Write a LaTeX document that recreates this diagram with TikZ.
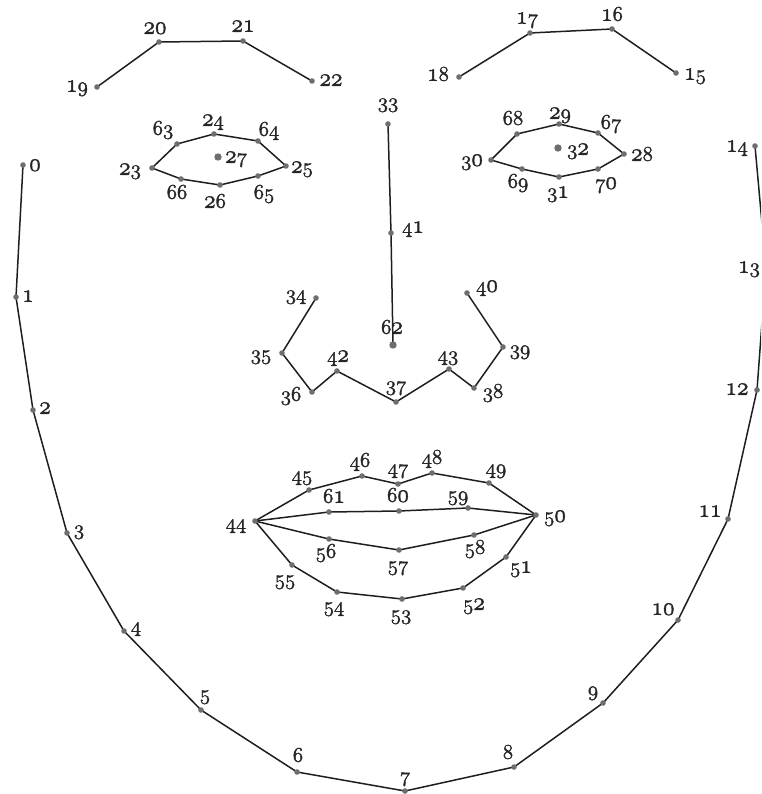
\RequirePackage{fix-cm}
\documentclass[tikz,border=0pt]{standalone}
\usepackage{graphicx}
\definecolor{linec}{HTML}{1E1E1E}
\definecolor{dotc}{HTML}{6E6E6E}
\definecolor{labc}{HTML}{262626}
\tikzset{
  edge/.style={draw=linec, line width=1.5pt, line join=round},
  lbl/.style={font=\fontsize{21}{24}\selectfont, text=labc, inner sep=0pt, anchor=base},
}
\makeatletter
\def\osn#1{\special{pdf:literal direct 2 Tr 0.35 w}\osn@#1\relax\special{pdf:literal direct 0 Tr}}
\def\osn@#1{\ifx#1\relax\else\osdig{#1}\expandafter\osn@\fi}
\def\osdig#1{\ifnum#1<3 \scalebox{1.12}[1.22]{\usefont{OML}{cmm}{m}{it}#1}\else{\usefont{OML}{cmm}{m}{it}#1}\fi}
\makeatother
\newcommand\fp[6]{\coordinate (p#1) at (#2,#3); \node[lbl] (l#1) at (#4,#5+4.8) {\osn{#6}};}
\begin{document}
\begin{tikzpicture}[x=1pt,y=-1pt]
\path[use as bounding box] (0,0) rectangle (761,794);
\begin{scope}
\clip (0,0) rectangle (761,794);
% jaw
\fp{0}{23}{165}{35}{166}{0}
\fp{1}{16}{297}{28}{297}{1}
\fp{2}{33}{410}{45}{409}{2}
\fp{3}{67}{533}{79}{530}{3}
\fp{4}{124}{631}{136}{627}{4}
\fp{5}{201}{710}{205}{695}{5}
\fp{6}{297}{772}{298}{757}{6}
\fp{7}{405}{791}{405}{777}{7}
\fp{8}{514}{767}{508}{754}{8}
\fp{9}{603}{703}{593}{691}{9}
\fp{10}{678}{620}{663}{610}{10}
\fp{11}{728}{519}{710}{512}{11}
\fp{12}{757}{390}{737}{390}{12}
\fp{13}{766}{268}{749}{268}{13}
\fp{14}{755}{146}{737}{147}{14}
% brows
\fp{15}{676}{73}{695}{75}{15}
\fp{16}{612}{29}{612}{16}{16}
\fp{17}{530}{33}{527}{19}{17}
\fp{18}{459}{77}{438}{76}{18}
\fp{19}{97}{87}{77}{87}{19}
\fp{20}{159}{42}{155}{29}{20}
\fp{21}{243}{41}{243}{27}{21}
\fp{22}{312}{81}{331}{81}{22}
% left eye
\fp{23}{152}{168}{130}{170}{23}
\fp{24}{214}{134}{213}{121}{24}
\fp{25}{286}{166}{302}{168}{25}
\fp{26}{220}{185}{215}{203}{26}
\fp{27}{218}{157}{236}{158}{27}
\fp{63}{177}{144}{163}{130}{63}
\fp{64}{258}{141}{269}{131}{64}
\fp{65}{258}{176}{264}{194}{65}
\fp{66}{181}{179}{177}{194}{66}
% right eye
\fp{28}{624}{154}{642}{156}{28}
\fp{29}{559}{124}{560}{114}{29}
\fp{30}{491}{160}{472}{161}{30}
\fp{31}{559}{177}{558}{193}{31}
\fp{32}{558}{148}{578}{150}{32}
\fp{67}{598}{133}{611}{124}{67}
\fp{68}{517}{134}{513}{120}{68}
\fp{69}{522}{169}{518}{183}{69}
\fp{70}{598}{169}{606}{184}{70}
% nose
\fp{33}{388}{124}{388}{103}{33}
\fp{41}{391}{233}{413}{228}{41}
\fp{62}{393}{345}{392}{329}{62}
\fp{34}{316}{298}{296}{295}{34}
\fp{35}{282}{353}{261}{355}{35}
\fp{36}{312}{392}{291}{396}{36}
\fp{42}{337}{371}{338}{357}{42}
\fp{37}{396}{402}{396}{386}{37}
\fp{43}{449}{369}{448}{356}{43}
\fp{38}{474}{388}{493}{393}{38}
\fp{39}{503}{347}{520}{350}{39}
\fp{40}{467}{293}{487}{287}{40}
% mouth
\fp{44}{255}{521}{236}{524}{44}
\fp{45}{309}{490}{302}{476}{45}
\fp{46}{362}{476}{360}{462}{46}
\fp{47}{398}{484}{398}{469}{47}
\fp{48}{432}{473}{432}{459}{48}
\fp{49}{489}{483}{496}{469}{49}
\fp{50}{536}{515}{555}{517}{50}
\fp{51}{506}{557}{521}{568}{51}
\fp{52}{463}{588}{474}{605}{52}
\fp{53}{402}{599}{401}{615}{53}
\fp{54}{337}{592}{334}{607}{54}
\fp{55}{292}{565}{285}{580}{55}
\fp{56}{329}{539}{326}{553}{56}
\fp{57}{399}{550}{398}{566}{57}
\fp{58}{474}{535}{475}{549}{58}
\fp{59}{468}{508}{458}{496}{59}
\fp{60}{399}{511}{398}{497}{60}
\fp{61}{329}{512}{334}{498}{61}
% connectors
\draw[edge] (p0)--(p1)--(p2)--(p3)--(p4)--(p5)--(p6)--(p7)--(p8)--(p9)--(p10)--(p11)--(p12)--(p13)--(p14);
\draw[edge] (p19)--(p20)--(p21)--(p22);
\draw[edge] (p18)--(p17)--(p16)--(p15);
\draw[edge] (p23)--(p63)--(p24)--(p64)--(p25)--(p65)--(p26)--(p66)--cycle;
\draw[edge] (p30)--(p68)--(p29)--(p67)--(p28)--(p70)--(p31)--(p69)--cycle;
\draw[edge] (p33)--(p41)--(p62);
\draw[edge] (p34)--(p35)--(p36)--(p42)--(p37)--(p43)--(p38)--(p39)--(p40);
\draw[edge] (p44)--(p45)--(p46)--(p47)--(p48)--(p49)--(p50)--(p51)--(p52)--(p53)--(p54)--(p55)--cycle;
\draw[edge] (p44)--(p61)--(p60)--(p59)--(p50);
\draw[edge] (p44)--(p56)--(p57)--(p58)--(p50);
% dots
\foreach \i in {0,...,26,28,29,30,31,33,34,...,61,63,64,...,70} \fill[dotc] (p\i) circle (2.8);
\foreach \i in {27,32,62} \fill[dotc] (p\i) circle (3.7);
\end{scope}
\end{tikzpicture}
\end{document}
